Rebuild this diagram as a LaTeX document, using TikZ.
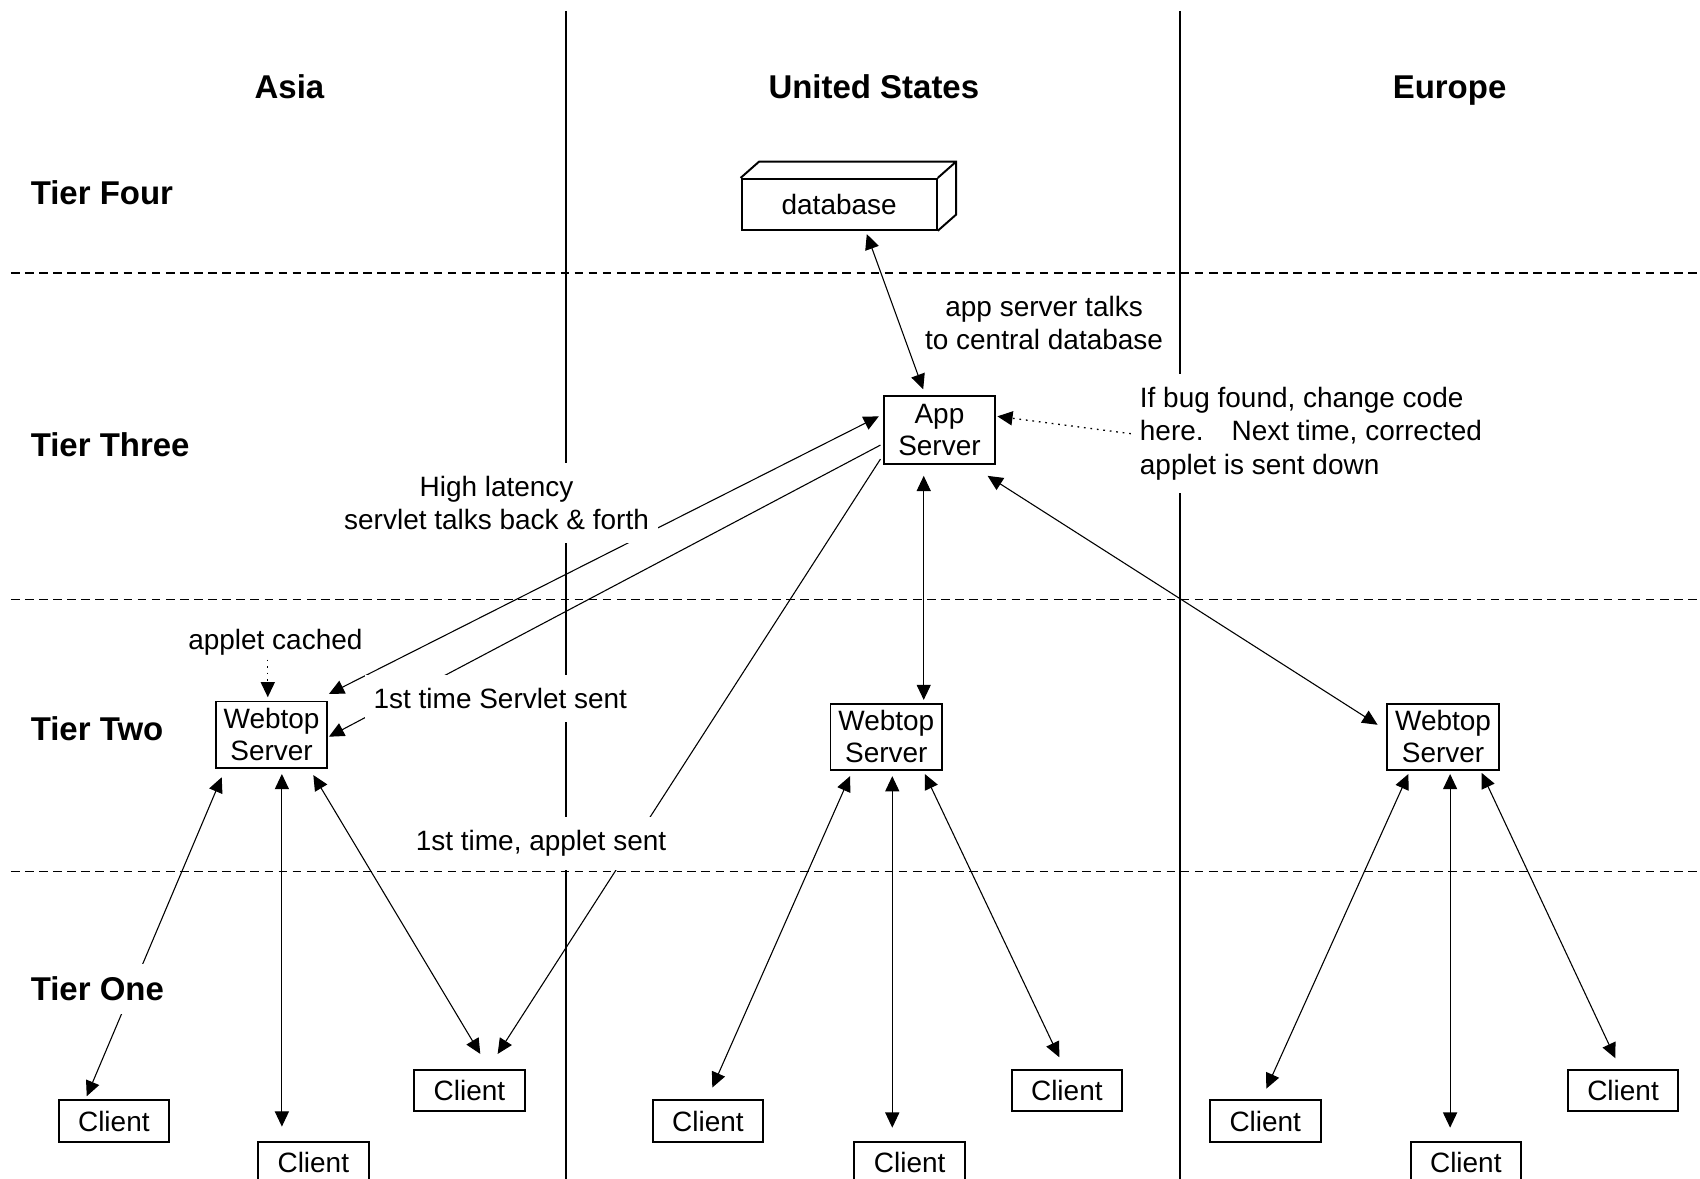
\documentclass[tikz,border=0pt]{standalone}
\usepackage{fontspec}
\setmainfont{Liberation Sans}
\usepackage{tikz}
\usetikzlibrary{arrows.meta}
\usetikzlibrary{positioning}
\usetikzlibrary{calc}

\begin{document}
\begin{tikzpicture}[
	x=0.5pt, y=-0.5pt,
	font=\fontsize{12.9}{15.5}\selectfont,
	box/.style={
		draw,
		rectangle,
		line width=0.9pt,
		inner sep=1pt,
		align=center,
		font=\fontsize{12.9}{15}\selectfont,
	},
	webtop/.style={
		box,
		minimum width=51.5pt,
		minimum height=30.5pt,
	},
	appsrv/.style={
		box,
		minimum width=51.5pt,
		minimum height=31.5pt,
	},
	client/.style={
		box,
		minimum width=51pt,
		minimum height=19pt,
	},
	dbbox/.style={
		box,
		minimum width=90pt,
		minimum height=23.5pt,
	},
	tier/.style={
		anchor=west,
		fill=white,
		inner sep=6pt,
		font=\fontsize{15.2}{18}\selectfont\bfseries,
	},
	region/.style={
		anchor=base,
		inner sep=0pt,
		font=\fontsize{15.2}{18}\selectfont\bfseries,
	},
	note/.style={
		fill=white,
		inner xsep=4pt,
		inner ysep=6pt,
		align=center,
	},
	divider/.style={line width=0.7pt, dash pattern=on 4pt off 2.5pt},
	border/.style={line width=0.9pt},
	wire/.style={line width=0.5pt},
	hint/.style={wire, line width=0.6pt, dash pattern=on 0.8pt off 2.2pt},
	link/.style={wire, arrows=<->},
	>={Triangle[length=7pt,width=6.5pt]},
]
\useasboundingbox (0,0) rectangle (1568,1087);

% regions and tiers
\draw[border] (522,10) -- (522,1095);
\draw[border] (1088,10) -- (1088,1095);
\draw[divider] (10,252) -- (1570,252);
\draw[divider] (10,553) -- (1570,553);
\draw[divider] (10,804) -- (1570,804);

\node [region] (asia) at (267,91) {Asia};
\node [region] (usa) at (806,91) {United States};
\node [region] (europe) at (1337,91) {Europe};

% servers
\node [dbbox] (db) at (774,188.5) {database};
\draw[border] (db.north west) -- ++(17,-15) -- ($(db.north east)+(17,-15)$) -- ($(db.south east)+(17,-15)$) -- (db.south east)
	(db.north east) -- ++(17,-15);
\node [appsrv] (app) at (866.5,396.5) {App\\Server};
\node [webtop] (w1) at (250.5,677.5) {Webtop\\Server};
\node [webtop] (w2) at (817.5,679.5) {Webtop\\Server};
\node [webtop] (w3) at (1331,679.5) {Webtop\\Server};

% clients
\node [client] (a1) at (105,1034) {Client};
\node [client] (a2) at (289,1072) {Client};
\node [client] (a3) at (433,1006) {Client};
\node [client] (u1) at (653,1034) {Client};
\node [client] (u2) at (839,1072) {Client};
\node [client] (u3) at (984,1006) {Client};
\node [client] (e1) at (1167,1034) {Client};
\node [client] (e2) at (1352,1072) {Client};
\node [client] (e3) at (1497,1006) {Client};

\node [note] (dbnote) at (963,298) {app server talks\\to central database};
\node [note, align=left, anchor=west] (bugnote) at (1043,400) {If bug found, change code\\here.\quad Next time, corrected\\applet is sent down};
\node [note, inner ysep=2pt] (cached) at (254,592) {applet cached};

\draw[link] ($(db.south)+(25.5,3)$) -- ($(app.north)+(-15,-5)$);
\draw[link] ($(app.south)+(-14.5,10)$) -- ($(w2.north)+(34.5,-2.5)$);
\draw[link] ($(app.south east)+(-8,10)$) -- ($(w3.west)+(-8,-11)$);
\draw[hint, ->] (bugnote.west) -- ($(app.east)+(1,-12.5)$);
\draw[hint, ->] ($(cached.south)+(-7,0)$) -- ($(w1.north)+(-3.5,-3)$);

% Asia <-> United States
\draw[link] ($(w1.north east)+(0.5,-6)$) -- ($(app.west)+(-3.5,-12.5)$);
\draw[wire, ->] ($(app.west)+(-2,14)$) -- ($(w1.east)+(0.5,2)$);
\draw[wire, ->] ($(app.south west)+(-2,-5.5)$) -- ($(a3.north)+(26,-14)$);

\draw[link] ($(w1.south)+(-46,8)$) -- ($(a1.north)+(-25,-3)$);
\draw[link] ($(w1.south)+(9.5,5)$) -- ($(a2.north)+(-29,-13)$);
\draw[link] ($(w1.south)+(38.5,6)$) -- ($(a3.north)+(10,-14)$);

\draw[link] ($(w2.south)+(-33.5,5)$) -- ($(u1.north)+(4,-11)$);
\draw[link] ($(w2.south)+(5.5,5)$) -- ($(u2.north)+(-16,-12)$);
\draw[link] ($(w2.south)+(35.5,3)$) -- ($(u3.north)+(-7,-11)$);

\draw[link] ($(w3.south)+(-32,3)$) -- ($(e1.north)+(1,-10)$);
\draw[link] ($(w3.south)+(6.5,3)$) -- ($(e2.north)+(-14.5,-12)$);
\draw[link] ($(w3.south)+(35.6,2)$) -- ($(e3.north)+(-7,-10)$);

% labels on top of the lines
\node [tier] (tfour) at (16,178) {Tier Four};
\node [tier] (tthree) at (16,410) {Tier Three};
\node [tier] (ttwo) at (16,672) {Tier Two};
\node [tier] (tone) at (16,912) {Tier One};

\node [note] (latency) at (458,464) {High latency\\servlet talks back \& forth};
\node [note] (servlet) at (461.5,644) {1st time Servlet sent};
\node [note] (applet) at (499,778) {1st time, applet sent};
\end{tikzpicture}
\end{document}
